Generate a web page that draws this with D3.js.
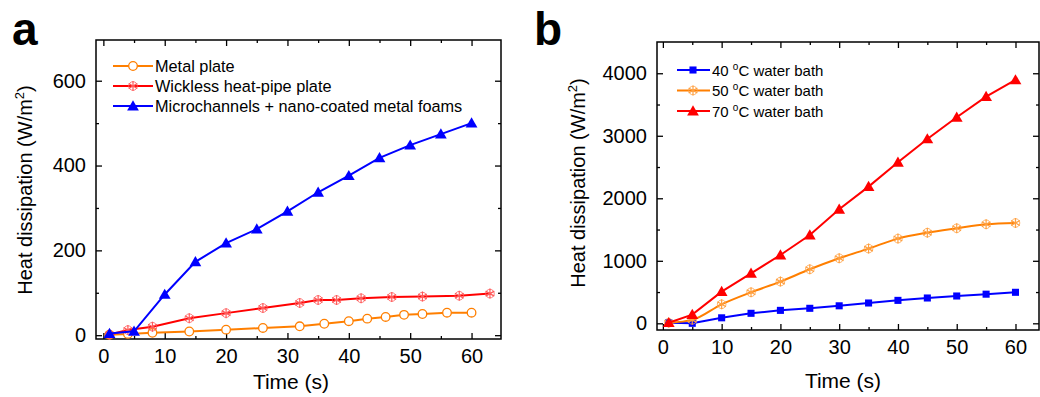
<!DOCTYPE html>
<html>
<head>
<meta charset="utf-8">
<script src="https://cdn.jsdelivr.net/npm/d3@7"></script>
<style>
  body { margin: 0; background: #fff; }
  svg { font-family: "Liberation Sans", Arial, sans-serif; }
  .axis path { display: none; }
  .axis line { stroke: #000; stroke-width: 1.3; }
</style>
</head>
<body>
<svg id="chart" width="1040" height="397"></svg>
<script>
// panel a data
const metalX = [1, 4, 8, 14, 20, 26, 32, 36, 40, 43, 46, 49, 52, 56, 60];
const metalY = [1, 3, 5.5, 8.7, 13, 17, 21, 27, 33, 39, 43, 48, 50, 53, 53];
const wickX = [1, 4, 8, 14, 20, 26, 32, 35, 38, 42, 47, 52, 58, 63];
const wickY = [1.5, 12, 20, 40, 52, 64, 76, 83, 83, 87, 90, 91, 93, 98];
const microX = [1, 5, 10, 15, 20, 25, 30, 35, 40, 45, 50, 55, 60];
const microY = [4, 9, 96, 173, 217, 250, 292, 337, 376, 418, 448, 474, 500];
const legendA = ["Metal plate", "Wickless heat-pipe plate", "Microchannels + nano-coated metal foams"];

// panel b data
const bathX = [1, 5, 10, 15, 20, 25, 30, 35, 40, 45, 50, 55, 60];
const bath40 = [10, 0, 88, 160, 207, 240, 280, 325, 367, 405, 437, 466, 496];
const bath50 = [10, 55, 304, 496, 667, 864, 1040, 1195, 1355, 1450, 1520, 1584, 1605];
const bath70 = [10, 139, 507, 800, 1093, 1413, 1824, 2187, 2576, 2949, 3296, 3627, 3893];
const legendB = ["40", "50", "70"];

const xTicks = [0, 10, 20, 30, 40, 50, 60];
const yTicksA = [0, 200, 400, 600];
const yTicksB = [0, 1000, 2000, 3000, 4000];

const svg = d3.select("#chart");
svg.append("rect").attr("width", 1040).attr("height", 397).attr("fill", "#fff");

const ORANGE = "#ff7f00", RED = "#ff0000", BLUE = "#0000ff";
const FONT = "'Liberation Sans', Arial, sans-serif";

function panel(box, xDom, yDom, xMinor, yMinor, yMajor) {
  const x = d3.scaleLinear().domain(xDom).range([box.left, box.right]);
  const y = d3.scaleLinear().domain(yDom).range([box.bottom, box.top]);
  const g = svg.append("g");

  const axes = [
    [d3.axisBottom(x).tickValues(xTicks), `translate(0,${box.bottom})`, true, 6],
    [d3.axisBottom(x).tickValues(xMinor), `translate(0,${box.bottom})`, false, 3],
    [d3.axisTop(x).tickValues(xTicks), `translate(0,${box.top})`, false, 6],
    [d3.axisTop(x).tickValues(xMinor), `translate(0,${box.top})`, false, 3],
    [d3.axisLeft(y).tickValues(yMajor), `translate(${box.left},0)`, true, 6],
    [d3.axisLeft(y).tickValues(yMinor), `translate(${box.left},0)`, false, 3],
    [d3.axisRight(y).tickValues(yMajor), `translate(${box.right},0)`, false, 6],
    [d3.axisRight(y).tickValues(yMinor), `translate(${box.right},0)`, false, 3]
  ];
  axes.forEach(([ax, tr, labels, len]) => {
    ax.tickSize(-len).tickPadding(box.pad).tickFormat(labels ? d3.format("d") : "");
    g.append("g").attr("class", "axis").attr("transform", tr).call(ax)
      .attr("font-size", 20).attr("font-family", FONT)
      .selectAll("text").attr("fill", "#000");
  });

  g.append("rect")
    .attr("x", box.left).attr("y", box.top)
    .attr("width", box.right - box.left).attr("height", box.bottom - box.top)
    .attr("fill", "none").attr("stroke", "#000").attr("stroke-width", 1.5);
  return {x, y, g};
}

function drawSeries(p, xs, ys, color, marker, curve) {
  const pts = xs.map((v, i) => [v, ys[i]]);
  p.g.append("path")
    .datum(pts)
    .attr("fill", "none")
    .attr("stroke", color)
    .attr("stroke-width", 2)
    .attr("d", d3.line().x(d => p.x(d[0])).y(d => p.y(d[1])).curve(curve || d3.curveLinear));
  pts.forEach(d => marker(p.g, p.x(d[0]), p.y(d[1])));
}

// markers
function circleMark(color) {
  return (g, cx, cy) => g.append("circle").attr("cx", cx).attr("cy", cy).attr("r", 4.3)
    .attr("fill", "#fff").attr("stroke", color).attr("stroke-width", 1.3);
}
function starMark(color) {
  return (g, cx, cy) => {
    const s = g.append("g").attr("transform", `translate(${cx},${cy})`);
    s.append("path").attr("d", d3.symbol(d3.symbolAsterisk, 70)())
      .attr("fill", "none").attr("stroke", color).attr("stroke-width", 1.2);
    s.append("circle").attr("r", 4.3).attr("fill", "none").attr("stroke", color).attr("stroke-width", 0.8);
  };
}
function triMark(color) {
  return (g, cx, cy) => g.append("path")
    .attr("transform", `translate(${cx},${cy + 1})`)
    .attr("d", d3.symbol(d3.symbolTriangle, 60)()).attr("fill", color);
}
function squareMark(color) {
  return (g, cx, cy) => g.append("path")
    .attr("transform", `translate(${cx},${cy})`)
    .attr("d", d3.symbol(d3.symbolSquare, 50)()).attr("fill", color);
}

// ---------- panel a ----------
const pa = panel({left: 96, right: 501, top: 40, bottom: 339, pad: 10},
  [-1.2, 64.8], [-9, 696], [5, 15, 25, 35, 45, 55], [100, 300, 500], yTicksA);

drawSeries(pa, metalX, metalY, ORANGE, circleMark(ORANGE));
drawSeries(pa, wickX, wickY, RED, starMark("#ff5a5a"));
drawSeries(pa, microX, microY, BLUE, triMark(BLUE));

const aMarks = [circleMark(ORANGE), starMark("#ff5a5a"), triMark(BLUE)];
const aCols = [ORANGE, RED, BLUE];
legendA.forEach((t, i) => {
  const yy = 66 + i * 20;
  pa.g.append("line").attr("x1", 113).attr("x2", 153).attr("y1", yy).attr("y2", yy)
    .attr("stroke", aCols[i]).attr("stroke-width", 2);
  aMarks[i](pa.g, 133, yy);
  pa.g.append("text").attr("x", 155).attr("y", yy + 6).attr("font-size", 16.3).text(t);
});

// ---------- panel b ----------
const pb = panel({left: 657, right: 1039, top: 42, bottom: 330, pad: 10},
  [-1, 64], [-107, 4500], [5, 15, 25, 35, 45, 55], [500, 1500, 2500, 3500], yTicksB);

drawSeries(pb, bathX, bath40, BLUE, squareMark(BLUE));
drawSeries(pb, bathX, bath50, ORANGE, starMark("#ffa040"), d3.curveMonotoneX);
drawSeries(pb, bathX, bath70, RED, triMark(RED));

const bMarks = [squareMark(BLUE), starMark("#ffa040"), triMark(RED)];
const bCols = [BLUE, ORANGE, RED];
legendB.forEach((t, i) => {
  const yy = 70 + i * 20.5;
  pb.g.append("line").attr("x1", 677).attr("x2", 710).attr("y1", yy).attr("y2", yy)
    .attr("stroke", bCols[i]).attr("stroke-width", 2);
  bMarks[i](pb.g, 693, yy);
  const tx = pb.g.append("text").attr("x", 712).attr("y", yy + 5.5).attr("font-size", 15);
  tx.append("tspan").text(t + " ");
  tx.append("tspan").attr("font-size", 10).attr("dy", -6).text("o");
  tx.append("tspan").attr("dy", 6).text("C water bath");
});

// ---------- titles ----------
function yTitle(cx, cy) {
  const t = svg.append("text")
    .attr("transform", `translate(${cx},${cy}) rotate(-90)`)
    .attr("text-anchor", "middle").attr("font-size", 20);
  t.append("tspan").text("Heat dissipation (W/m");
  t.append("tspan").attr("font-size", 13).attr("dy", -8).text("2");
  t.append("tspan").attr("dy", 8).text(")");
}
yTitle(32, 190);
yTitle(585, 183);

svg.append("text").attr("x", 291).attr("y", 389).attr("text-anchor", "middle")
  .attr("font-size", 21).text("Time (s)");
svg.append("text").attr("x", 843).attr("y", 388).attr("text-anchor", "middle")
  .attr("font-size", 21).text("Time (s)");

svg.append("text").attr("x", 12).attr("y", 45).attr("font-size", 46)
  .attr("font-weight", "bold").text("a");
svg.append("text").attr("x", 534).attr("y", 45).attr("font-size", 46)
  .attr("font-weight", "bold").text("b");
</script>
</body>
</html>
